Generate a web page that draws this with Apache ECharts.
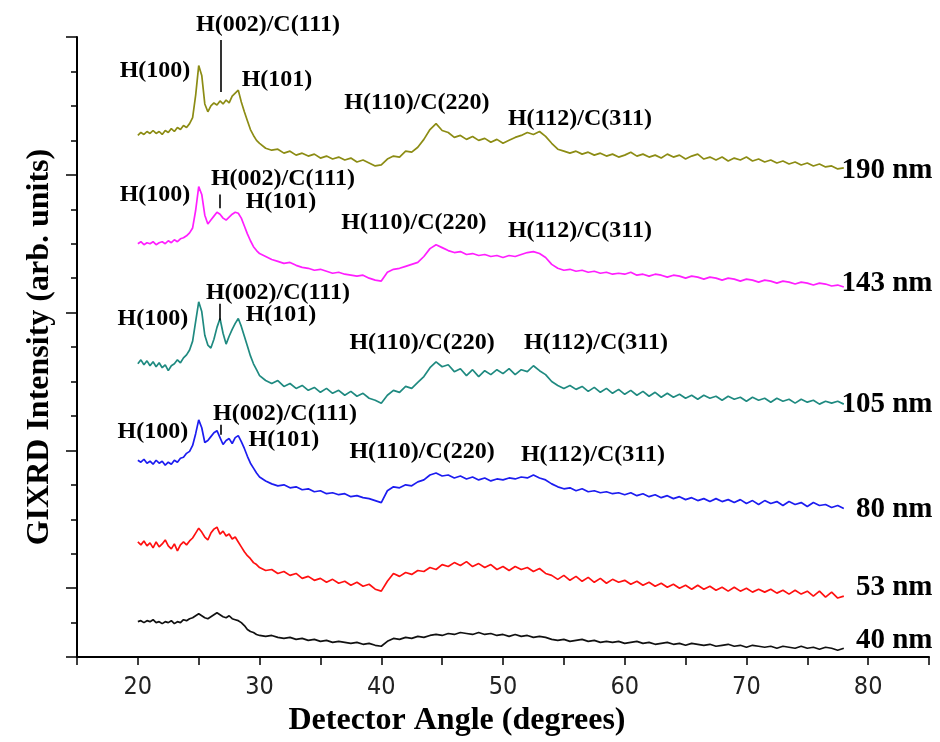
<!DOCTYPE html>
<html><head><meta charset="utf-8">
<script src="https://cdn.jsdelivr.net/npm/echarts@6/dist/echarts.min.js"></script>
<style>html,body{margin:0;padding:0;background:#fff}#c{width:940px;height:742px}</style>
</head><body><div id="c"></div><script>
// Detector angle grid (degrees)
const angles = [
 20,20.25,20.5,20.75,21,21.25,21.5,21.75,22,22.25,
 22.5,22.75,23,23.25,23.5,23.75,24,24.25,24.5,24.75,
 25,25.25,25.5,25.75,26,26.25,26.5,26.75,27,27.25,
 27.5,27.75,28,28.25,28.5,28.75,29,29.25,29.5,29.75,
 30,30.5,31,31.5,32,32.5,33,33.5,34,34.5,
 35,35.5,36,36.5,37,37.5,38,38.5,39,39.5,
 40,40.5,41,41.5,42,42.5,43,43.5,44,44.5,
 45,45.5,46,46.5,47,47.5,48,48.5,49,49.5,
 50,50.5,51,51.5,52,52.5,53,53.5,54,54.5,
 55,55.5,56,56.5,57,57.5,58,58.5,59,59.5,
 60,60.5,61,61.5,62,62.5,63,63.5,64,64.5,
 65,65.5,66,66.5,67,67.5,68,68.5,69,69.5,
 70,70.5,71,71.5,72,72.5,73,73.5,74,74.5,
 75,75.5,76,76.5,77,77.5,78
];
// Offset intensities (arb. units) per film thickness
const i190 = [
 530,533,531,534,532,535,532,534,531,535,
 533,537,534,538,536,540,538,542,548,571,
 601,591,562,554,560,563,561,565,562,566,
 563,570,573,576,564,554,545,536,530,525,
 522,517,515,516,512,514,510,512,509,511,
 507,509,506,508,505,507,503,505,502,499,
 500,506,509,508,514,513,518,526,536,542,
 535,533,528,530,526,529,525,527,523,526,
 522,525,528,530,533,531,534,529,522,516,
 514,512,514,511,513,510,512,509,511,508,
 510,513,509,511,508,510,507,511,508,510,
 506,509,511,506,508,505,508,504,507,505,
 508,504,506,503,505,502,504,501,503,500,
 502,499,501,498,499,496,497
];
const i143 = [
 420,422,419,421,420,422,419,421,422,420,
 423,421,424,422,425,426,428,431,436,454,
 478,470,449,440,444,448,452,450,446,444,
 447,450,452,451,446,438,430,423,417,413,
 410,407,404,402,400,401,398,396,395,393,
 394,392,390,391,389,388,387,388,385,383,
 382,391,394,395,397,399,401,407,415,419,
 416,413,411,412,409,410,408,409,407,408,
 406,408,407,409,411,412,410,406,399,395,
 393,394,392,393,391,392,390,391,389,390,
 389,391,388,389,387,389,388,386,388,387,
 385,387,386,384,386,385,383,385,384,382,
 384,383,381,383,382,380,382,381,379,381,
 380,378,380,379,377,378,376
];
const i105 = [
 298,302,297,301,296,300,295,299,294,297,
 291,296,298,302,299,304,307,312,321,341,
 361,351,327,317,314,323,335,344,329,318,
 326,333,339,344,336,326,316,306,298,292,
 286,281,278,281,275,278,273,276,271,274,
 269,273,268,271,266,270,265,268,263,261,
 258,266,271,269,275,273,279,285,294,300,
 295,297,290,293,286,292,285,291,287,292,
 288,293,287,292,290,296,291,287,280,276,
 273,276,272,275,270,274,269,273,268,272,
 267,271,266,270,265,269,264,268,264,267,
 263,266,262,266,263,265,261,265,262,264,
 260,264,261,263,259,263,260,262,258,262,
 259,261,257,260,258,260,257
];
const i80 = [
 200,198,201,197,199,196,200,197,199,195,
 198,196,200,198,202,203,207,209,215,227,
 241,233,218,220,224,228,230,223,216,220,
 222,217,223,225,219,212,204,197,192,187,
 183,179,176,174,175,172,173,170,171,168,
 169,166,167,165,166,163,164,162,161,159,
 157,169,173,172,175,174,178,180,185,187,
 184,185,182,184,181,183,180,182,179,181,
 180,182,181,183,182,185,182,180,176,173,
 171,172,169,171,168,169,167,168,166,167,
 165,167,164,166,163,165,162,164,161,163,
 160,162,159,161,158,161,158,160,157,160,
 156,159,155,159,156,158,154,158,155,157,
 153,157,154,155,152,154,151
];
const i53 = [
 117,114,118,113,116,111,117,112,115,119,
 113,110,115,108,114,117,114,118,121,126,
 131,127,122,119,126,130,132,125,128,123,
 125,120,122,117,112,107,103,100,96,94,
 91,88,89,85,87,83,85,80,82,78,
 80,76,79,75,77,73,76,72,74,69,
 67,77,85,82,86,84,88,87,91,89,
 94,92,96,93,97,92,95,91,94,89,
 92,88,92,89,91,87,90,85,83,79,
 83,78,82,77,81,76,80,75,79,76,
 78,74,77,73,76,72,75,71,74,70,
 73,69,73,69,72,68,71,67,71,67,
 70,66,69,66,69,65,68,64,68,64,
 67,62,67,61,66,60,62
];
const i40 = [
 36,37,35,37,36,38,35,36,34,36,
 35,37,34,36,35,38,37,39,40,42,
 44,42,40,39,41,43,45,43,41,40,
 42,39,38,37,35,32,28,26,25,23,
 22,21,22,20,19,20,18,19,17,18,
 16,17,15,16,15,14,15,13,14,12,
 11,16,19,18,20,19,21,20,22,23,
 22,24,23,25,24,23,25,23,24,22,
 23,21,23,21,22,20,21,20,18,17,
 18,16,17,18,16,17,15,16,15,16,
 14,15,16,14,15,13,14,15,13,14,
 12,14,13,12,13,11,12,13,11,12,
 10,12,11,10,11,9,11,10,9,11,
 9,10,8,10,9,7,9
];
const sampleNames = ['190 nm','143 nm','105 nm','80 nm','53 nm','40 nm'];
const xTickLabels = [20,30,40,50,60,70,80];
const peakNames = ['H(100)','H(002)/C(111)','H(101)','H(110)/C(220)','H(112)/C(311)'];

// annotation anchors (data coordinates)
const peakAnchors = [
 [[21.41,596],[30.69,642],[31.43,587],[42.93,563],[56.32,547]],
 [[21.41,470],[31.92,486],[31.76,463],[42.68,441],[56.32,433]],
 [[21.24,344],[31.51,370],[31.76,348],[43.35,319],[57.64,319]],
 [[21.24,229],[32.09,247],[32.0,221],[43.35,209],[57.39,206]]
];
const markerLines = [[26.8,627,574],[26.75,470,456],[26.7,359,342],[26.84,236,226]];
const nameAnchors = [[85.33,494],[85.33,380],[85.33,257],[85.33,150],[85.33,71],[85.33,17]];

const colors = ['#8c8c14','#ff1eff','#1f8a80','#1c1cf0','#ff1010','#111111'];
const values = [i190,i143,i105,i80,i53,i40];
const serif = "'Liberation Serif','Times New Roman',serif";

const chart = echarts.init(document.getElementById('c'));
const series = values.map((v,k) => {
  const s = {
    type:'line', name:sampleNames[k], data: angles.map((a,i)=>[a,v[i]]),
    showSymbol:false, symbol:'none', silent:true, clip:false,
    lineStyle:{color:colors[k], width:1.7}, itemStyle:{color:colors[k]}
  };
  if (k < 4) {
    const m = markerLines[k];
    s.markLine = {silent:true, symbol:['none','none'], label:{show:false},
      lineStyle:{color:'#000', width:1.6, type:'solid'},
      data:[[{coord:[m[0],m[1]]},{coord:[m[0],m[2]]}]]};
  }
  return s;
});
const labelBase = {show:true, color:'#000', opacity:1, textBorderWidth:0, textShadowBlur:0,
  fontFamily:serif, fontWeight:'bold'};
const peakData = [];
peakAnchors.forEach(set => set.forEach((p,j) => peakData.push({value:p, name:peakNames[j]})));
series.push({
  type:'scatter', silent:true, clip:false, symbolSize:1, itemStyle:{color:'rgba(0,0,0,0)'},
  data: peakData,
  label:Object.assign({}, labelBase, {position:'inside', formatter:p=>p.name, fontSize:24})
});
series.push({
  type:'scatter', silent:true, clip:false, symbolSize:1, itemStyle:{color:'rgba(0,0,0,0)'},
  data: nameAnchors.map((p,k)=>({value:p, name:sampleNames[k]})),
  label:Object.assign({}, labelBase, {position:'left', distance:0, formatter:p=>p.name, fontSize:29})
});

chart.setOption({
  animation:false,
  backgroundColor:'#fff',
  grid:{left:77, right:11, top:37, bottom:80},
  xAxis:{
    type:'value', min:15, max:85, interval:5,
    name:'Detector Angle (degrees)', nameLocation:'middle', nameGap:46,
    nameTextStyle:{fontFamily:serif, fontWeight:'bold', fontSize:32, color:'#000', padding:[0,92,0,0]},
    axisLine:{lineStyle:{color:'#000', width:2}},
    axisTick:{length:8, lineStyle:{color:'#000', width:1.5}},
    axisLabel:{margin:18, color:'#222', fontSize:25,
      fontFamily:"'Liberation Sans Narrow','DejaVu Sans Condensed','Liberation Sans',Arial,sans-serif",
      formatter:v => xTickLabels.indexOf(v) >= 0 ? String(v) : ''},
    splitLine:{show:false}
  },
  yAxis:[{
    type:'value', min:0, max:630, interval:35,
    name:'GIXRD Intensity (arb. units)', nameLocation:'middle', nameGap:21, nameRotate:90,
    nameTextStyle:{fontFamily:serif, fontWeight:'bold', fontSize:32, color:'#000'},
    axisLine:{show:true, lineStyle:{color:'#000', width:2}},
    axisTick:{show:true, length:6, lineStyle:{color:'#000', width:1.5}},
    axisLabel:{show:false}, splitLine:{show:false}
  },{
    type:'value', min:0, max:630, interval:35, position:'left',
    axisLine:{show:false},
    axisTick:{show:true, length:11, customValues:[0,70,210,350,490,630], lineStyle:{color:'#000', width:1.5}},
    axisLabel:{show:false}, splitLine:{show:false}
  }],
  series: series
});
</script></body></html>
